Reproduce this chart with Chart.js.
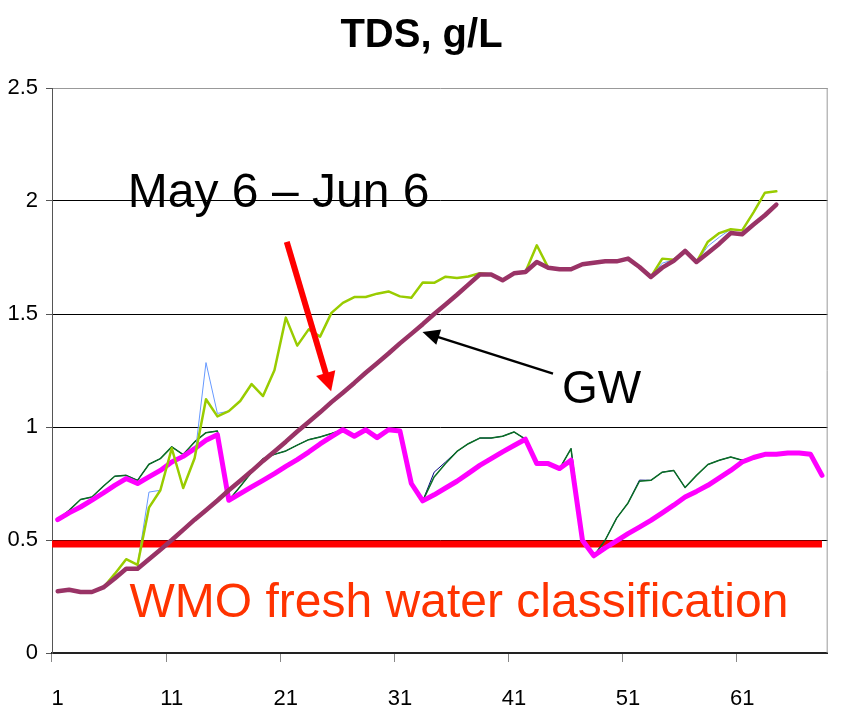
<!DOCTYPE html>
<html>
<head>
<meta charset="utf-8">
<title>TDS, g/L</title>
<script src="https://cdn.jsdelivr.net/npm/chart.js@4.4.1/dist/chart.umd.min.js"></script>
<style>
  html, body { margin: 0; padding: 0; background: #fff; }
  #chart { display: block; }
</style>
</head>
<body>
<canvas id="chart" width="846" height="720"></canvas>
<script>
// ==================== DATA ====================
const categories = [1, 2, 3, 4, 5, 6, 7, 8, 9, 10, 11, 12, 13, 14, 15, 16, 17, 18, 19, 20,
    21, 22, 23, 24, 25, 26, 27, 28, 29, 30, 31, 32, 33, 34, 35, 36, 37, 38, 39, 40,
    41, 42, 43, 44, 45, 46, 47, 48, 49, 50, 51, 52, 53, 54, 55, 56, 57, 58, 59, 60,
    61, 62, 63, 64, 65, 66, 67, 68];

// lower group (magenta + dark green + navy)
const magentaSeries = [0.59, 0.62, 0.646, 0.676, 0.708, 0.742, 0.772, 0.75, 0.779, 0.808,
    0.845, 0.87, 0.904, 0.941, 0.966, 0.676, 0.705, 0.735, 0.764, 0.794,
    0.826, 0.856, 0.889, 0.925, 0.957, 0.988, 0.959, 0.988, 0.953, 0.988,
    0.982, 0.75, 0.673, 0.70, 0.73, 0.76, 0.795, 0.83, 0.86, 0.89,
    0.918, 0.946, 0.838, 0.838, 0.816, 0.853, 0.499, 0.43, 0.465, 0.496,
    0.528, 0.557, 0.587, 0.62, 0.654, 0.69, 0.715, 0.742, 0.775, 0.808,
    0.845, 0.865, 0.879, 0.879, 0.885, 0.885, 0.879, 0.786];

const greenSeries = [0.59, 0.631, 0.679, 0.69, 0.738, 0.782, 0.786, 0.764, 0.835, 0.86,
    0.912, 0.878, 0.934, 0.975, 0.982, 0.676, 0.737, 0.80, 0.86, 0.879,
    0.894, 0.92, 0.944, 0.956, 0.971, 0.988, 0.959, 0.988, 0.953, 0.988,
    0.982, 0.75, 0.673, 0.779, 0.838, 0.892, 0.926, 0.951, 0.951, 0.959,
    0.978, 0.946, 0.838, 0.838, 0.816, 0.904, 0.499, 0.43, 0.50, 0.597,
    0.664, 0.76, 0.764, 0.80, 0.808, 0.732, 0.786, 0.834, 0.853, 0.867,
    0.853, 0.865, 0.879, 0.879, 0.885, 0.885, 0.879, 0.786];

const navySeries = [0.59, 0.631, 0.679, 0.69, 0.738, 0.782, 0.786, 0.764, 0.835, 0.86,
    0.912, 0.878, 0.934, 0.975, 0.982, 0.676, 0.737, 0.80, 0.86, 0.879,
    0.894, 0.92, 0.944, 0.956, 0.971, 0.988, 0.959, 0.988, 0.953, 0.988,
    0.982, 0.75, 0.673, 0.80, 0.845, 0.892, 0.926, 0.951, 0.951, 0.959,
    0.978, 0.946, 0.838, 0.838, 0.816, 0.904, 0.499, 0.43, 0.50, 0.597,
    0.664, 0.765, 0.764, 0.80, 0.808, 0.732, 0.786, 0.834, 0.853, 0.867,
    0.853, 0.865, 0.879, 0.879, 0.885, 0.885, 0.879, 0.786];

// upper group (GW maroon + yellow-green + light blue)
const gwSeries = [0.273, 0.28, 0.27, 0.27, 0.29, 0.33, 0.373, 0.373, 0.415, 0.457,
    0.50, 0.545, 0.59, 0.632, 0.675, 0.72, 0.762, 0.805, 0.85, 0.892,
    0.935, 0.98, 1.022, 1.065, 1.11, 1.152, 1.195, 1.24, 1.282, 1.325,
    1.37, 1.412, 1.455, 1.50, 1.542, 1.585, 1.63, 1.675, 1.675, 1.649,
    1.68, 1.686, 1.73, 1.705, 1.698, 1.698, 1.72, 1.727, 1.733, 1.733,
    1.745, 1.708, 1.664, 1.705, 1.735, 1.779, 1.73, 1.77, 1.811, 1.858,
    1.853, 1.896, 1.937, 1.984];

const limeSeries = [0.273, 0.28, 0.27, 0.27, 0.29, 0.35, 0.415, 0.39, 0.643, 0.72,
    0.906, 0.73, 0.862, 1.123, 1.047, 1.07, 1.115, 1.19, 1.137, 1.251,
    1.484, 1.36, 1.432, 1.40, 1.505, 1.549, 1.575, 1.575, 1.59, 1.60,
    1.578, 1.572, 1.639, 1.638, 1.665, 1.659, 1.666, 1.68, 1.675, 1.649,
    1.68, 1.686, 1.804, 1.705, 1.698, 1.698, 1.72, 1.727, 1.733, 1.733,
    1.745, 1.708, 1.664, 1.745, 1.74, 1.779, 1.73, 1.82, 1.858, 1.875,
    1.87, 1.95, 2.037, 2.043];

const blueSeries = [0.273, 0.28, 0.27, 0.27, 0.29, 0.35, 0.415, 0.39, 0.712, 0.72,
    0.906, 0.73, 0.862, 1.285, 1.06, 1.07, 1.115, 1.19, 1.137, 1.251,
    1.484, 1.36, 1.432, 1.40, 1.505, 1.549, 1.575, 1.575, 1.59, 1.60,
    1.578, 1.572, 1.639, 1.638, 1.665, 1.659, 1.666, 1.68, 1.675, 1.649,
    1.68, 1.686, 1.804, 1.705, 1.698, 1.698, 1.72, 1.727, 1.733, 1.733,
    1.745, 1.708, 1.664, 1.725, 1.74, 1.779, 1.73, 1.80, 1.84, 1.875,
    1.87, 1.95, 2.037, 2.043];

const yTicks = [0, 0.5, 1, 1.5, 2, 2.5];
const yTickLabels = ['0', '0.5', '1', '1.5', '2', '2.5'];
const xLabelEvery = 10;

// WMO fresh water limit (g/L)
const wmoLimit = 0.482;

// ==================== ANNOTATIONS (data-space anchors) ====================
// x given as category index (0-based), y in g/L
const noteTexts = [
    { text: 'May 6 \u2013 Jun 6', x: 6.15, y: 1.973, color: '#000000', size: 48 },
    { text: 'GW', x: 44.2, y: 1.108, color: '#000000', size: 46 },
    { text: 'WMO fresh water classification', x: 6.3, y: 0.159, color: '#FF3300', size: 48 }
];
const noteArrows = [
    { from: [20.08, 1.819], to: [23.97, 1.158], color: '#FF0000', width: 6, head: 19, half: 10 },
    { from: [43.42, 1.236], to: [31.98, 1.42], color: '#000000', width: 2.5, head: 17, half: 8 }
];

// ==================== PLUGINS ====================
function drawArrow(ctx, x1, y1, x2, y2, a) {
    const ang = Math.atan2(y2 - y1, x2 - x1);
    const bx = x2 - Math.cos(ang) * a.head;
    const by = y2 - Math.sin(ang) * a.head;
    ctx.strokeStyle = a.color;
    ctx.fillStyle = a.color;
    ctx.lineWidth = a.width;
    ctx.lineCap = 'butt';
    ctx.beginPath();
    ctx.moveTo(x1, y1);
    ctx.lineTo(bx + Math.cos(ang) * 2, by + Math.sin(ang) * 2);
    ctx.stroke();
    ctx.beginPath();
    ctx.moveTo(x2, y2);
    ctx.lineTo(bx - Math.sin(ang) * a.half, by + Math.cos(ang) * a.half);
    ctx.lineTo(bx + Math.sin(ang) * a.half, by - Math.cos(ang) * a.half);
    ctx.closePath();
    ctx.fill();
}

const annotationsPlugin = {
    id: 'annotations',
    beforeDatasetsDraw(chart) {
        const { ctx, chartArea, scales } = chart;
        const yy = scales.y.getPixelForValue(wmoLimit);
        ctx.save();
        ctx.strokeStyle = '#FF0000';
        ctx.lineWidth = 7;
        ctx.beginPath();
        ctx.moveTo(chartArea.left, yy);
        ctx.lineTo(scales.x.getPixelForValue(categories.length - 1), yy);
        ctx.stroke();
        ctx.restore();
    },
    afterDatasetsDraw(chart) {
        const { ctx, scales } = chart;
        ctx.save();
        noteArrows.forEach(a => {
            drawArrow(ctx,
                scales.x.getPixelForValue(a.from[0]), scales.y.getPixelForValue(a.from[1]),
                scales.x.getPixelForValue(a.to[0]), scales.y.getPixelForValue(a.to[1]), a);
        });
        noteTexts.forEach(t => {
            ctx.font = `${t.size}px "Liberation Sans", Arial, sans-serif`;
            ctx.fillStyle = t.color;
            ctx.textAlign = 'left';
            ctx.textBaseline = 'alphabetic';
            ctx.fillText(t.text, scales.x.getPixelForValue(t.x), scales.y.getPixelForValue(t.y));
        });
        ctx.restore();
    },
    afterDraw(chart) {
        const { ctx, chartArea } = chart;
        ctx.save();
        ctx.strokeStyle = '#999999';
        ctx.lineWidth = 1;
        ctx.beginPath();
        ctx.moveTo(chartArea.right - 0.5, chartArea.top);
        ctx.lineTo(chartArea.right - 0.5, chartArea.bottom);
        ctx.stroke();
        ctx.restore();
    }
};

// ==================== CHART ====================
const axisFont = '"Liberation Sans", Arial, sans-serif';

function lineSet(label, data, color, width, order) {
    return {
        label: label,
        data: data,
        borderColor: color,
        backgroundColor: color,
        borderWidth: width,
        pointRadius: 0,
        pointHoverRadius: 0,
        tension: 0,
        fill: false,
        borderJoinStyle: 'round',
        borderCapStyle: 'round',
        order: order
    };
}

const ctx = document.getElementById('chart').getContext('2d');
new Chart(ctx, {
    type: 'line',
    data: {
        labels: categories,
        datasets: [
            lineSet('GW', gwSeries, '#993366', 4.5, 1),
            lineSet('TDS 2', limeSeries, '#99CC00', 2.5, 2),
            lineSet('TDS 3', blueSeries, '#6699FF', 1, 3),
            lineSet('TDS 4', magentaSeries, '#FF00FF', 5, 4),
            lineSet('TDS 5', greenSeries, '#0A6E24', 1.5, 5),
            lineSet('TDS 6', navySeries, '#000080', 1, 6)
        ]
    },
    options: {
        responsive: false,
        animation: false,
        layout: { padding: { left: 0, right: 3, top: 0, bottom: 0 } },
        plugins: {
            legend: { display: false },
            tooltip: { enabled: false },
            title: {
                display: true,
                text: 'TDS, g/L',
                color: '#000',
                font: { family: axisFont, size: 40, weight: 'bold' },
                padding: { top: 12, bottom: 28 }
            }
        },
        scales: {
            x: {
                type: 'category',
                offset: true,
                afterFit: s => { s.height = 67; },
                border: { color: '#222', width: 2 },
                grid: {
                    offset: true,
                    drawOnChartArea: false,
                    drawTicks: true,
                    tickLength: 9,
                    tickColor: c => (c.index % xLabelEvery === 0 ? '#888' : 'rgba(0,0,0,0)')
                },
                ticks: {
                    autoSkip: false,
                    maxRotation: 0,
                    padding: 24,
                    color: '#000',
                    font: { family: axisFont, size: 22 },
                    callback: (v, i) => (i % xLabelEvery === 0 ? String(categories[i]) : '')
                }
            },
            y: {
                min: yTicks[0],
                max: yTicks[yTicks.length - 1],
                afterFit: s => { s.width = 52; },
                afterBuildTicks: s => { s.ticks = yTicks.map(v => ({ value: v })); },
                border: { color: '#555', width: 1 },
                grid: {
                    color: c => (c.tick && c.tick.value === 0 ? 'rgba(0,0,0,0)'
                        : (c.tick && c.tick.value === 2.5 ? '#999' : '#000')),
                    lineWidth: 1,
                    tickLength: 6,
                    tickColor: '#555'
                },
                ticks: {
                    padding: 8,
                    color: '#000',
                    font: { family: axisFont, size: 22 },
                    callback: v => yTickLabels[yTicks.indexOf(v)]
                }
            }
        }
    },
    plugins: [annotationsPlugin]
});
</script>
</body>
</html>
